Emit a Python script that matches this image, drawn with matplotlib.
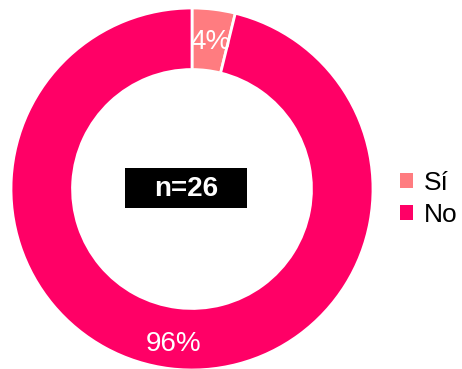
import matplotlib
matplotlib.use("Agg")
import matplotlib.pyplot as plt
import numpy as np
from matplotlib.patches import Rectangle, Patch

plt.rcParams['font.family'] = ['Liberation Sans', 'DejaVu Sans']

labels = ['Sí', 'No']
counts = [1, 25]
pct_labels = ['4%', '96%']
colors = ['#FF7C80', '#FF0066']
n_total = 26

W, H = 462, 369
fig = plt.figure(figsize=(W / 100, H / 100), dpi=100)

# donut centred at (192, 189) px, outer radius 181 px
cx, cy, r = 192, 189, 181
ax = fig.add_axes([(cx - r) / W, (H - cy - r) / H, 2 * r / W, 2 * r / H])

wedges, _ = ax.pie(counts, colors=colors, startangle=90, counterclock=False,
                   radius=1.0,
                   wedgeprops=dict(width=0.34, edgecolor='white', linewidth=2))

for w, txt in zip(wedges, pct_labels):
    ang = np.deg2rad((w.theta1 + w.theta2) / 2)
    ax.text(0.84 * np.cos(ang), 0.84 * np.sin(ang) - 0.022, txt,
            ha='center', va='center', color='white', fontsize=20)

ax.set_xlim(-1, 1)
ax.set_ylim(-1, 1)
ax.set_aspect('equal')
ax.axis('off')

# sample size box in the middle
ax.add_patch(Rectangle((-0.37, -0.105), 0.674, 0.221, facecolor='black',
                       edgecolor='none', zorder=3))
ax.text(-0.033, 0.0, f'n={n_total}', ha='center', va='center', color='white',
        fontsize=20, fontweight='bold', zorder=4)

handles = [Patch(facecolor=c, edgecolor='none') for c in colors]
fig.legend(handles, labels, loc='center left',
           bbox_to_anchor=(376 / W, 1 - 199 / H), frameon=False,
           fontsize=19, handlelength=0.5, handleheight=0.5,
           handletextpad=0.4, labelspacing=0.3)

fig.savefig('out.png', dpi=100)
